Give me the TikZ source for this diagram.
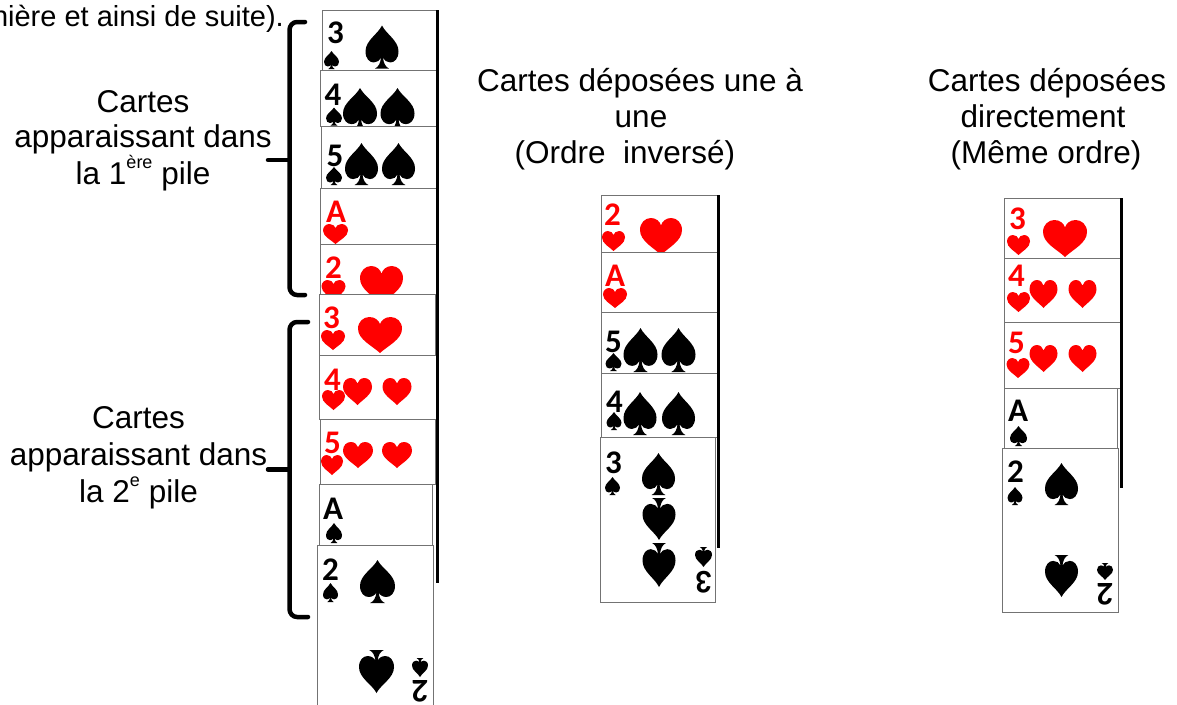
\documentclass[tikz,border=0pt]{standalone}
\usepackage{fontspec}
\setmainfont{Liberation Sans}
\newfontfamily\cardfont{Carlito}
\definecolor{suitred}{RGB}{255,0,0}
\newcommand\spadepip[4]{\pic[black,xscale=#3,yscale=#4] at (#1,#2) {spade};}
\newcommand\heartpip[4]{\pic[suitred,xscale=#3,yscale=#4] at (#1,#2) {heart};}
\tikzset{
  spade/.pic={\fill (0,-1) .. controls (-0.25,-0.6) and (-1,-0.3) .. (-1,0.2)
      .. controls (-1,0.55) and (-0.75,0.72) .. (-0.5,0.72)
      .. controls (-0.3,0.72) and (-0.12,0.62) .. (-0.06,0.5)
      .. controls (-0.1,0.75) and (-0.2,0.92) .. (-0.42,1) -- (0.42,1)
      .. controls (0.2,0.92) and (0.1,0.75) .. (0.06,0.5)
      .. controls (0.12,0.62) and (0.3,0.72) .. (0.5,0.72)
      .. controls (0.75,0.72) and (1,0.55) .. (1,0.2)
      .. controls (1,-0.3) and (0.25,-0.6) .. (0,-1) -- cycle;},
  heart/.pic={\fill (0,1) .. controls (-0.35,0.6) and (-1,0.25) .. (-1,-0.35)
      .. controls (-1,-0.75) and (-0.75,-1) .. (-0.48,-1)
      .. controls (-0.22,-1) and (-0.05,-0.8) .. (0,-0.6)
      .. controls (0.05,-0.8) and (0.22,-1) .. (0.48,-1)
      .. controls (0.75,-1) and (1,-0.75) .. (1,-0.35)
      .. controls (1,0.25) and (0.35,0.6) .. (0,1) -- cycle;},
  card/.style 2 args={draw=black!55, line width=1.3pt, fill=white, anchor=north west,
      inner sep=0pt, minimum width=#1pt, minimum height=#2pt},
  rank/.style={font=\cardfont\bfseries\fontsize{33}{33}\selectfont, inner sep=0pt},
  redrank/.style={rank, text=suitred},
  lbl/.style={font=\fontsize{31.5}{36}\selectfont, inner sep=0pt, anchor=base},
  edge/.style={line width=3pt, black},
  bracket/.style={line width=4.5pt, line cap=round, line join=round}
}
\begin{document}
\begin{tikzpicture}[x=1pt,y=-1pt]
\useasboundingbox[fill=white] (0,0) rectangle (1177,704);

% ---------- left column: the whole pile ----------
\node[lbl, anchor=base east, font=\fontsize{29}{34}\selectfont] (intro) at (284,27) {nière et ainsi de suite).};

\node[card={116}{60}] (L1) at (322,10) {};
\node[rank] (L1r) at (335.5,33) {3};
\spadepip{331.5}{60}{7.5}{9}
\spadepip{382}{47}{16.5}{21.5}

\node[card={117}{56}] (L2) at (320,70) {};
\node[rank] (L2r) at (333,95) {4};
\spadepip{334}{116.5}{8}{9}
\spadepip{360}{109}{17}{21}
\spadepip{397.5}{109}{17}{21}

\node[card={117}{62}] (L3) at (321,126) {};
\node[rank] (L3r) at (335,156) {5};
\spadepip{334}{176}{8}{9}
\spadepip{361.5}{164}{16.5}{21}
\spadepip{398.5}{164}{16.5}{21}

\node[card={117}{56}] (L4) at (320,188) {};
\node[redrank] (L4r) at (336,212) {A};
\heartpip{335.5}{234}{12.5}{10}

\node[card={117}{50}] (L5) at (320,244) {};
\node[redrank] (L5r) at (333.5,267.5) {2};
\heartpip{333.5}{290}{12}{10}
\heartpip{381.5}{285}{21.5}{19}

\node[card={116}{61}] (L6) at (319,294) {};
\node[redrank] (L6r) at (331.5,317.5) {3};
\heartpip{333}{340}{12}{10}
\heartpip{380}{335}{22}{18}

\node[card={117}{64}] (L7) at (319,355) {};
\node[redrank] (L7r) at (332.5,380) {4};
\heartpip{333.5}{400}{11.5}{10}
\heartpip{357.5}{391.5}{14.5}{13.5}
\heartpip{397}{391.5}{14.5}{13.5}

\node[card={115}{65}] (L8) at (320,419) {};
\node[redrank] (L8r) at (332.5,442.5) {5};
\heartpip{332}{465}{11}{10}
\heartpip{358}{455}{15}{13}
\heartpip{397}{455}{15}{13}

\node[card={113}{61}] (L9) at (319,484) {};
\node[rank] (L9r) at (333,508.5) {A};
\spadepip{334}{533}{8}{10}

\node[card={116}{165}] (L10) at (317,545) {};
\node[rank] (L10r) at (330.5,570) {2};
\spadepip{330.5}{592.5}{7.5}{9.5}
\spadepip{377.5}{581.5}{17.5}{21.5}
\spadepip{376.5}{671.5}{17.5}{-21.5}
\spadepip{420}{667.5}{8}{-9.5}
\node[rank, rotate=180] (L10ri) at (420,691) {2};

\draw[edge] (437,10) -- (437,583);

% braces and their captions
\draw[bracket] (305,22) -- (297,22) to[out=180,in=90] (289.5,30) -- (289.5,287)
  to[out=270,in=180] (297,295) -- (305,295);
\draw[bracket] (289.5,160) -- (268,160);
\draw[bracket] (308,322) -- (297,322) to[out=180,in=90] (289.5,330) -- (289.5,609)
  to[out=270,in=180] (297,617) -- (308,617);
\draw[bracket] (289.5,469.5) -- (268,469.5);

\node[lbl] (p1a) at (143,112) {Cartes};
\node[lbl] (p1b) at (143,147) {apparaissant dans};
\node[lbl] (p1c) at (143,184) {la 1\raisebox{16pt}{\fontsize{18}{18}\selectfont ère} pile};

\node[lbl] (p2a) at (138.5,428) {Cartes};
\node[lbl] (p2b) at (138.5,465) {apparaissant dans};
\node[lbl] (p2c) at (138.5,502) {la 2\raisebox{16pt}{\fontsize{18}{18}\selectfont e} pile};

% ---------- middle column: dealt one by one ----------
\node[lbl] (m1) at (640,91) {Cartes déposées une à};
\node[lbl] (m2) at (641,127) {une};
\node[lbl] (m3) at (625,163) {(Ordre\ \ inversé)};

\node[card={117}{57}] (M1) at (601,195) {};
\node[redrank] (M1r) at (612.5,215) {2};
\heartpip{613.5}{241}{11.5}{10}
\heartpip{661}{236.5}{21}{18.5}

\node[card={117}{60}] (M2) at (601,252) {};
\node[redrank] (M2r) at (615,276) {A};
\heartpip{615}{298}{12}{10}

\node[card={117}{61}] (M3) at (601,312) {};
\node[rank] (M3r) at (613.5,342) {5};
\spadepip{613.5}{362}{8}{9}
\spadepip{640.5}{350}{17}{22}
\spadepip{678.5}{350}{17}{22}

\node[card={117}{64}] (M4) at (601,373) {};
\node[rank] (M4r) at (614.5,402) {4};
\spadepip{614}{421}{7.5}{9}
\spadepip{640}{413.5}{16.5}{21.5}
\spadepip{678.5}{413.5}{16.5}{21.5}

\node[card={115}{165}] (M5) at (600,437) {};
\node[rank] (M5r) at (613.5,463) {3};
\spadepip{612.5}{486}{7.5}{9}
\spadepip{658.5}{474}{16.5}{21}
\spadepip{659}{519}{16.5}{-21}
\spadepip{659}{565}{16.5}{-22}
\spadepip{703.5}{557}{8.5}{-10}
\node[rank, rotate=180] (M5ri) at (704,582.5) {3};

\draw[edge] (718.5,195) -- (718.5,548);

% ---------- right column: dealt all at once ----------
\node[lbl] (r1) at (1047,91) {Cartes déposées};
\node[lbl] (r2) at (1043,127) {directement};
\node[lbl] (r3) at (1046,163) {(Même ordre)};

\node[card={116}{60}] (R1) at (1004,198) {};
\node[redrank] (R1r) at (1017.5,219) {3};
\heartpip{1018.5}{245}{11.5}{10}
\heartpip{1065}{238.5}{22}{18.5}

\node[card={116}{64}] (R2) at (1004,258) {};
\node[redrank] (R2r) at (1016.5,276) {4};
\heartpip{1018.5}{302}{11.5}{10}
\heartpip{1043.5}{294}{14}{14}
\heartpip{1082.5}{294}{14}{14}

\node[card={116}{66}] (R3) at (1004,322) {};
\node[redrank] (R3r) at (1016.5,342.5) {5};
\heartpip{1018}{368}{11.5}{10}
\heartpip{1043.5}{358.5}{14}{13.5}
\heartpip{1082.5}{358.5}{14}{13.5}

\node[card={113}{60}] (R4) at (1004,388) {};
\node[rank] (R4r) at (1018,411) {A};
\spadepip{1018.5}{436}{8.5}{10}

\node[card={116}{164}] (R5) at (1002,448) {};
\node[rank] (R5r) at (1015.5,472) {2};
\spadepip{1015}{496}{7.5}{9}
\spadepip{1061.5}{484}{16.5}{21}
\spadepip{1061.5}{576}{16.5}{-21}
\spadepip{1105}{571.5}{8}{-8.5}
\node[rank, rotate=180] (R5ri) at (1105,594.5) {2};

\draw[edge] (1121,198) -- (1121,488);
\end{tikzpicture}
\end{document}
